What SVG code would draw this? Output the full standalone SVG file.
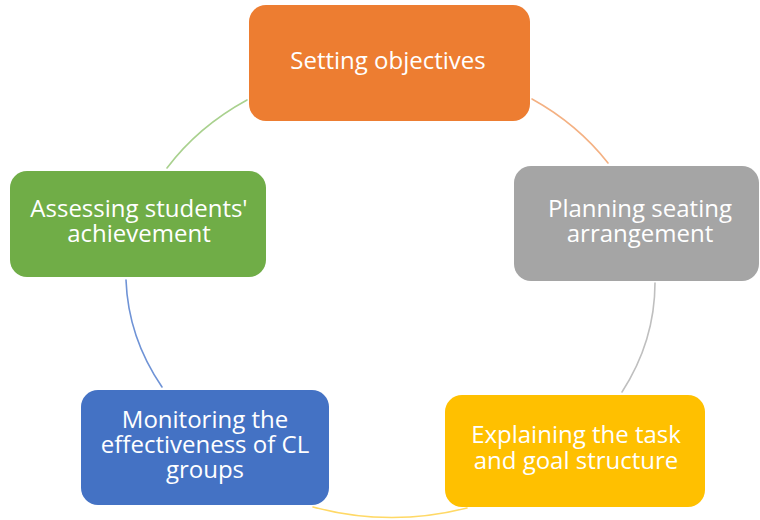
<svg xmlns="http://www.w3.org/2000/svg" width="760" height="520" viewBox="0 0 760 520">
  <style>
    .box { stroke: none; }
    .lbl { font-family: "Open Sans", "Noto Sans", "DejaVu Sans", sans-serif; font-size: 24px; fill: #ffffff; text-anchor: middle; }
    .arc { fill: none; stroke-width: 1.6; stroke-linecap: round; }
  </style>
  <rect width="760" height="520" fill="#ffffff"/>
  <g id="connectors">
    <path class="arc" stroke="#F4B183" d="M532,99 A264,226 0 0 1 608,163"/>
    <path class="arc" stroke="#BFBFBF" d="M655,283 A264,226 0 0 1 622,392"/>
    <path class="arc" stroke="#FFD966" d="M467,508 A264,226 0 0 1 313,507"/>
    <path class="arc" stroke="#6F93D6" d="M162,387 A264,226 0 0 1 126,280"/>
    <path class="arc" stroke="#A9D18E" d="M167,168 A264,226 0 0 1 247,100"/>
  </g>
  <g id="node-setting">
    <rect class="box" x="249" y="5" width="281" height="116" rx="17" fill="#ED7D31"/>
    <text class="lbl" x="388" y="69">Setting objectives</text>
  </g>
  <g id="node-planning">
    <rect class="box" x="514" y="166" width="245" height="115" rx="17" fill="#A5A5A5"/>
    <text class="lbl" x="640" y="217">Planning seating</text>
    <text class="lbl" x="640" y="242">arrangement</text>
  </g>
  <g id="node-explaining">
    <rect class="box" x="445" y="395" width="260" height="112" rx="17" fill="#FFC000"/>
    <text class="lbl" x="576" y="443">Explaining the task</text>
    <text class="lbl" x="576" y="469">and goal structure</text>
  </g>
  <g id="node-monitoring">
    <rect class="box" x="81" y="390" width="248" height="115" rx="17" fill="#4472C4"/>
    <text class="lbl" x="205" y="428">Monitoring the</text>
    <text class="lbl" x="205" y="453">effectiveness of CL</text>
    <text class="lbl" x="205" y="478">groups</text>
  </g>
  <g id="node-assessing">
    <rect class="box" x="10" y="171" width="256" height="106" rx="17" fill="#70AD47"/>
    <text class="lbl" x="139" y="217">Assessing students'</text>
    <text class="lbl" x="139" y="242">achievement</text>
  </g>
</svg>
